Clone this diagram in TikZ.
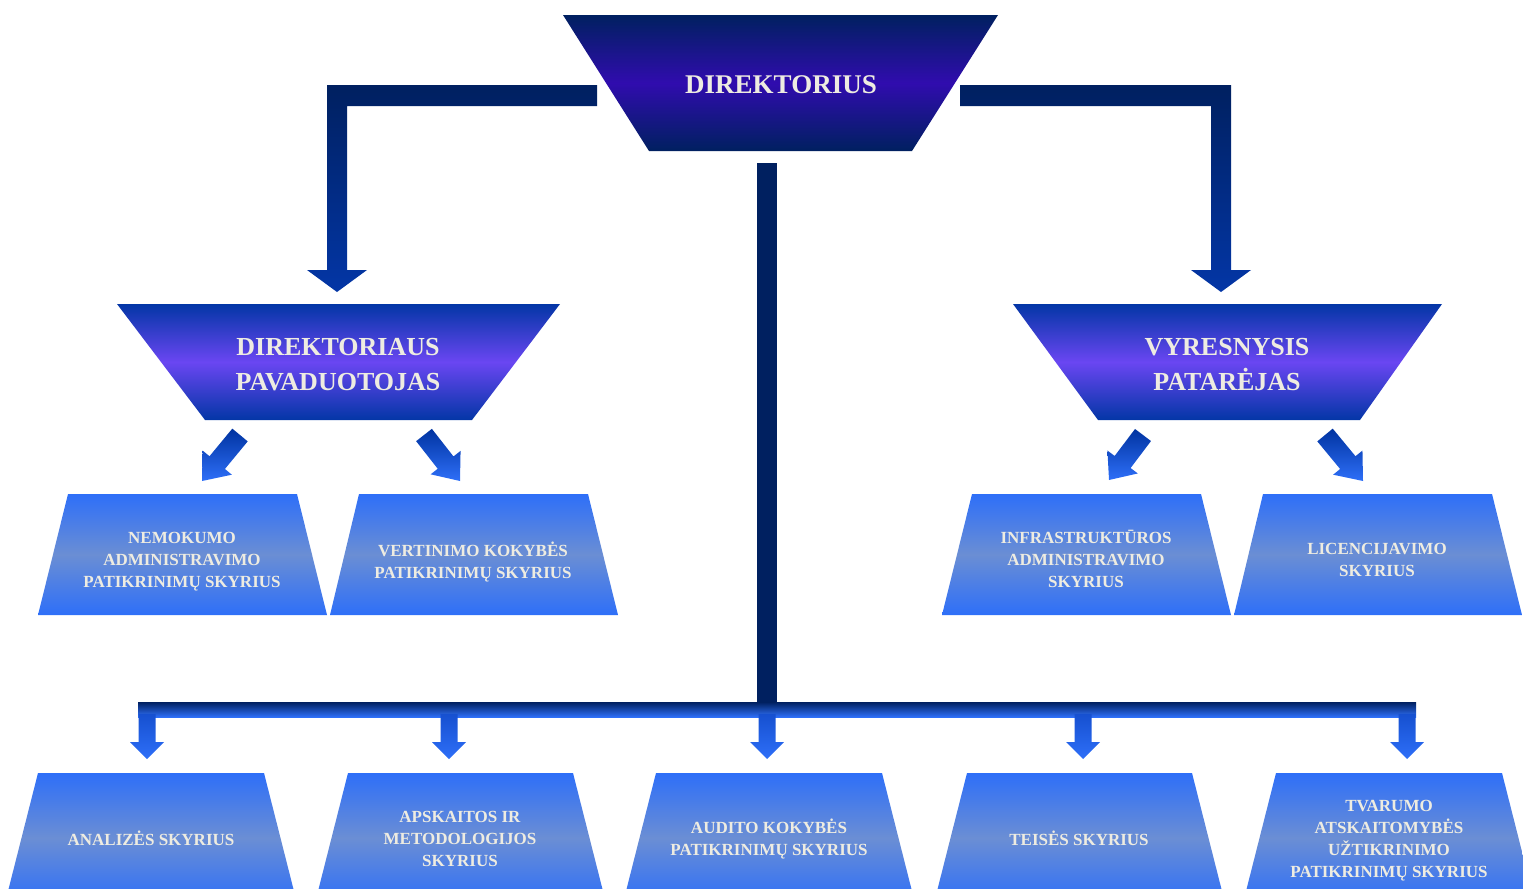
\documentclass[tikz,border=0pt]{standalone}
\usepackage{fontspec}
\setmainfont{Liberation Serif}
\usetikzlibrary{calc}
\definecolor{navy}{HTML}{002060}
\definecolor{violetA}{HTML}{300CAE}
\definecolor{blueB}{HTML}{0336A6}
\definecolor{violetB}{HTML}{6A46F2}
\definecolor{bright}{HTML}{2E6FF8}
\definecolor{greyblue}{HTML}{6B8ED4}
\definecolor{txt}{HTML}{EEECE1}
\definecolor{dropdark}{HTML}{1650D0}
\definecolor{diagdark}{HTML}{0033A0}
\newcommand\diagarrow[2]{%
  \coordinate (hb) at ($(#1)!0.6!(#2)$);
  \path[diagShade] ($(#1)!10bp!90:(#2)$) -- ($(hb)!10bp!90:(#2)$) -- ($(hb)!19bp!90:(#2)$)
     -- (#2) -- ($(hb)!19bp!-90:(#2)$) -- ($(hb)!10bp!-90:(#2)$) -- ($(#1)!10bp!-90:(#2)$) -- cycle;}
\begin{document}
\begin{tikzpicture}[x=1bp,y=-1bp,
  shadeTop/.style={top color=navy,bottom color=navy,middle color=violetA},
  shadeMid/.style={top color=blueB,bottom color=blueB,middle color=violetB},
  shadeBox/.style={top color=bright,bottom color=bright,middle color=greyblue},
  connDark/.style={top color=navy,bottom color=blueB},
  busShade/.style={top color=navy,bottom color=bright},
  dropShade/.style={top color=dropdark,bottom color=bright},
  diagShade/.style={top color=diagdark,bottom color=bright},
  lblTop/.style={text=txt,font=\bfseries\fontsize{27bp}{35bp}\selectfont,align=center,inner sep=0pt},
  lblHead/.style={text=txt,font=\bfseries\fontsize{26bp}{35bp}\selectfont,align=center,inner sep=0pt},
  lblSmall/.style={text=txt,font=\bfseries\fontsize{17bp}{22bp}\selectfont,align=center,inner sep=0pt}]
\useasboundingbox (0,0) rectangle (1523,888);
\clip (0,0) rectangle (1523,888);

% ---- shapes ----
\path[shadeTop] (563,15) -- (998,15) -- (912,151) -- (649,151) -- cycle;
\path[shadeMid] (117,304) -- (560,304) -- (472,420) -- (205,420) -- cycle;
\path[shadeMid] (1013,304) -- (1442,304) -- (1360,420) -- (1098,420) -- cycle;

\path[shadeBox] (68,494) -- (297,494) -- (327,615) -- (38,615) -- cycle;
\path[shadeBox] (359,494) -- (588,494) -- (618,615) -- (330,615) -- cycle;
\path[shadeBox] (972,494) -- (1201,494) -- (1231,615) -- (942,615) -- cycle;
\path[shadeBox] (1263,494) -- (1492,494) -- (1522,615) -- (1234,615) -- cycle;

\path[shadeBox] (38,773) -- (264,773) -- (297,903) -- (5,903) -- cycle;
\path[shadeBox] (348,773) -- (573,773) -- (606,903) -- (315,903) -- cycle;
\path[shadeBox] (656,773) -- (882,773) -- (915,903) -- (623,903) -- cycle;
\path[shadeBox] (967,773) -- (1192,773) -- (1225,903) -- (934,903) -- cycle;
\path[shadeBox] (1276,773) -- (1502,773) -- (1535,903) -- (1243,903) -- cycle;

% ---- labels ----
\node[lblTop] (dir) at (781,85) {DIREKTORIUS};
\node[lblHead] (pav) at (338,365) {DIREKTORIAUS\\PAVADUOTOJAS};
\node[lblHead] (pat) at (1227,365) {VYRESNYSIS\\PATARĖJAS};

\node[lblSmall] (nem) at (182,562) {NEMOKUMO\\ADMINISTRAVIMO\\PATIKRINIMŲ SKYRIUS};
\node[lblSmall] (ver) at (473,562) {VERTINIMO KOKYBĖS\\PATIKRINIMŲ SKYRIUS};
\node[lblSmall] (inf) at (1086,559) {INFRASTRUKTŪROS\\ADMINISTRAVIMO\\SKYRIUS};
\node[lblSmall] (lic) at (1377,560) {LICENCIJAVIMO\\SKYRIUS};

\node[lblSmall] (ana) at (151,838) {ANALIZĖS SKYRIUS};
\node[lblSmall] (aps) at (460,839) {APSKAITOS IR\\METODOLOGIJOS\\SKYRIUS};
\node[lblSmall] (aud) at (769,839) {AUDITO KOKYBĖS\\PATIKRINIMŲ SKYRIUS};
\node[lblSmall] (tei) at (1079,838) {TEISĖS SKYRIUS};
\node[lblSmall] (tva) at (1389,841) {TVARUMO\\ATSKAITOMYBĖS\\UŽTIKRINIMO\\PATIKRINIMŲ SKYRIUS};

% ---- L connectors from DIREKTORIUS ----
\coordinate (dL) at (597,95.5);
\coordinate (pavTip) at (337,292);
\path[connDark] ($(dL)+(0,-10.5)$) -| ($(pavTip)+(-10,-22)$) -- ++(-20,0) -- (pavTip)
   -- ++(30,-22) -- ++(-20,0) |- ($(dL)+(0,10.5)$) -- cycle;
\coordinate (dR) at (960,95.5);
\coordinate (patTip) at (1221,292);
\path[connDark] ($(dR)+(0,-10.5)$) -| ($(patTip)+(10,-22)$) -- ++(20,0) -- (patTip)
   -- ++(-30,-22) -- ++(20,0) |- ($(dR)+(0,10.5)$) -- cycle;

% ---- centre trunk and bus ----
\coordinate (dB) at (767,163);
\fill[navy] ($(dB)+(-10,0)$) rectangle ($(dB)+(10,545)$);
\coordinate (busL) at (138,702);
\coordinate (busR) at (1416,717);
\path[busShade] (busL) rectangle (busR);
\foreach \c/\n in {147/ana,449/aps,767/aud,1083/tei,1407/tva}{
  \coordinate (drop\n) at (\c,759);
  \path[dropShade] ($(drop\n)+(-8.5,-45)$) -- ($(drop\n)+(-8.5,-17)$) -- ++(-8.5,0) -- (drop\n)
     -- ++(17,-17) -- ++(-8.5,0) -- ($(drop\n)+(8.5,-45)$) -- cycle;
}

% ---- diagonal arrows ----
\coordinate (t1) at (240,435); \coordinate (p1) at (202,481);
\coordinate (t2) at (424,435); \coordinate (p2) at (460,481);
\coordinate (t3) at (1143,435); \coordinate (p3) at (1109,480);
\coordinate (t4) at (1325,435); \coordinate (p4) at (1363,481);
\diagarrow{t1}{p1}
\diagarrow{t2}{p2}
\diagarrow{t3}{p3}
\diagarrow{t4}{p4}
\end{tikzpicture}
\end{document}
